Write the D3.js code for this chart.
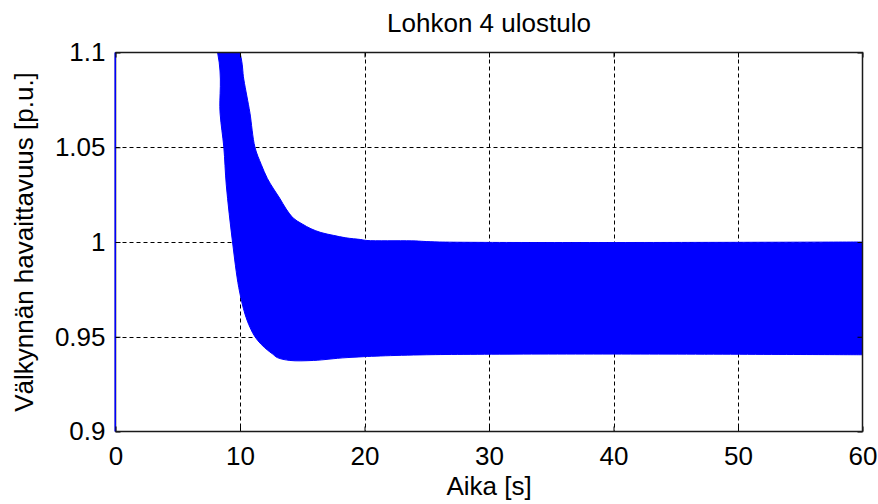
<!DOCTYPE html>
<html lang="fi">

<head>
  <meta charset="UTF-8">
  <title>Lohkon 4 ulostulo</title>
  <script src="https://d3js.org/d3.v7.min.js"></script>
  <style>
    body {
      margin: 0;
      background: #fff;
    }

    text {
      font-family: "Liberation Sans", Arial, sans-serif;
      fill: #000;
    }

    .grid line {
      stroke: #000;
      stroke-width: 1px;
      stroke-dasharray: 4, 3;
    }

    .axis path {
      display: none;
    }

    .axis line {
      stroke: #000;
    }

    .frame {
      fill: none;
      stroke: #1a1a1a;
      stroke-width: 1.5px;
    }
  </style>
</head>

<body>

  <script>
    // ---- data ----
    const xTicks = [0, 10, 20, 30, 40, 50, 60];
    const yTicks = [0.9, 0.95, 1, 1.05, 1.1];

    // upper envelope of the fast oscillation
    const upperT = [0, 10.0, 10.3, 10.55, 10.8, 11.2, 11.7, 12.2, 12.7, 13.2, 13.7, 14.3, 15.0, 15.7, 16.5, 17.5, 18.5, 19.7, 20.2, 23.8, 26.0, 60];
    const upperV = [1.3, 1.1, 1.086, 1.077, 1.068, 1.05, 1.041, 1.0335, 1.028, 1.023, 1.0175, 1.0125, 1.0095, 1.007, 1.005, 1.0035, 1.0022, 1.0013, 1.0008, 1.0006, 1.0, 1.0];

    // lower envelope (starts with the jump at t = 0)
    const lowerT = [0, 0, 8.2, 8.4, 8.7, 8.9, 9.4, 9.9, 10.4, 10.8, 11.2, 11.7, 12.2, 12.6, 13.0, 14.0, 15.9, 18.6, 25.0, 60];
    const lowerV = [0.85, 1.25, 1.1, 1.068, 1.05, 1.03, 1.0, 0.976, 0.962, 0.955, 0.95, 0.946, 0.943, 0.941, 0.939, 0.9375, 0.9375, 0.939, 0.9405, 0.9405];

    // ---- layout ----
    const W = 878, H = 504;
    const x0 = 115.5, x1 = 862.5, y0 = 52.5, y1 = 431.5;

    const svg = d3.select("body").append("svg")
      .attr("width", W)
      .attr("height", H);

    const x = d3.scaleLinear().domain([0, 60]).range([x0, x1]);
    const y = d3.scaleLinear().domain([0.9, 1.1]).range([y1, y0]);

    // dashed grid
    const grid = svg.append("g").attr("class", "grid");
    grid.selectAll(".gx")
      .data(xTicks.filter(d => d > 0 && d < 60))
      .enter().append("line")
      .attr("x1", d => Math.round(x(d)) + 0.5).attr("x2", d => Math.round(x(d)) + 0.5)
      .attr("y1", y0).attr("y2", y1);
    grid.selectAll(".gy")
      .data(yTicks.filter(d => d > 0.9 && d < 1.1))
      .enter().append("line")
      .attr("y1", d => Math.round(y(d)) + 0.5).attr("y2", d => Math.round(y(d)) + 0.5)
      .attr("x1", x0).attr("x2", x1);

    // left frame edge goes under the data
    svg.append("line").attr("class", "frame")
      .attr("x1", x0).attr("x2", x0).attr("y1", y0).attr("y2", y1);

    // signal band: upper envelope forward, lower envelope back
    svg.append("clipPath").attr("id", "plotclip")
      .append("rect")
      .attr("x", x0 - 1).attr("y", y0)
      .attr("width", x1 - x0 + 1).attr("height", y1 - y0);

    const upperPts = upperT.map((t, i) => [t, upperV[i]]);
    const lowerPts = lowerT.map((t, i) => [t, lowerV[i]]).reverse();
    const edge = d3.line().x(d => x(d[0])).y(d => y(d[1])).curve(d3.curveCatmullRom.alpha(0.5));
    const bandPath = edge(upperPts) + edge(lowerPts).replace(/^M/, "L") + "Z";

    svg.append("path")
      .attr("clip-path", "url(#plotclip)")
      .attr("d", bandPath)
      .attr("fill", "#0000ff")
      .attr("stroke", "#0000ff")
      .attr("stroke-width", 1);

    // axes with inward ticks
    svg.append("g").attr("class", "axis")
      .attr("transform", `translate(0,${y1})`)
      .call(d3.axisBottom(x).tickValues(xTicks).tickSize(-5).tickPadding(15).tickFormat(d3.format("d")))
      .selectAll("text").style("font-size", "26px").style("font-family", "Liberation Sans");

    svg.append("g").attr("class", "axis")
      .attr("transform", `translate(${x0},0)`)
      .call(d3.axisLeft(y).tickValues(yTicks).tickSize(-5).tickPadding(10).tickFormat(d => String(+d.toFixed(2))))
      .selectAll("text").style("font-size", "26px").style("font-family", "Liberation Sans");

    svg.append("g").attr("class", "axis")
      .attr("transform", `translate(0,${y0})`)
      .call(d3.axisTop(x).tickValues(xTicks).tickSize(-5).tickFormat(""));

    svg.append("g").attr("class", "axis")
      .attr("transform", `translate(${x1},0)`)
      .call(d3.axisRight(y).tickValues(yTicks).tickSize(-5).tickFormat(""));

    // rest of the box on top
    svg.append("path").attr("class", "frame")
      .attr("d", `M${x0},${y0}H${x1}V${y1}H${x0}`);

    // labels
    svg.append("text")
      .attr("x", (x0 + x1) / 2).attr("y", 32)
      .attr("text-anchor", "middle")
      .style("font-size", "26px")
      .text("Lohkon 4 ulostulo");

    svg.append("text")
      .attr("x", (x0 + x1) / 2).attr("y", 495)
      .attr("text-anchor", "middle")
      .style("font-size", "26px")
      .text("Aika [s]");

    svg.append("text")
      .attr("transform", "translate(33,242) rotate(-90)")
      .attr("text-anchor", "middle")
      .style("font-size", "26px")
      .text("Välkynnän havaittavuus [p.u.]");
  </script>

</body>

</html>
